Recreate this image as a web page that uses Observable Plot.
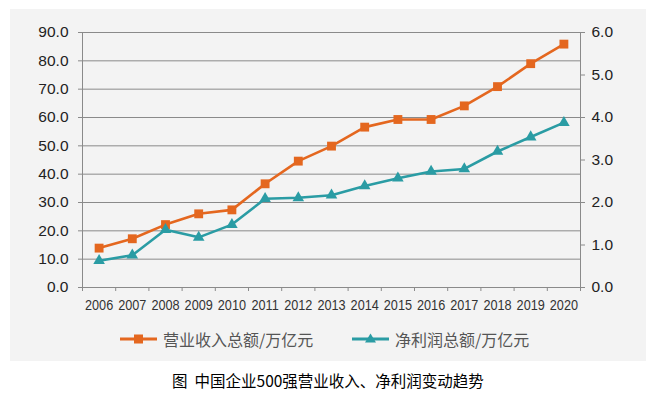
<!DOCTYPE html>
<html>
<head>
<meta charset="utf-8">
<script src="https://cdn.jsdelivr.net/npm/d3@7"></script>
<script src="https://cdn.jsdelivr.net/npm/@observablehq/plot@0.6"></script>
<style>
  html, body { margin: 0; padding: 0; background: #fff; }
  body { width: 656px; height: 398px; position: relative; overflow: hidden; font-family: "Liberation Sans", Arial, sans-serif; }
  #panel { position: absolute; left: 10px; top: 9px; width: 636px; height: 352px; background: #f3f3f3; }
  #chart { position: absolute; left: 0; top: 0; }
  .leg { position: absolute; top: 318px; height: 24px; display: flex; align-items: center; font-family: "Noto Sans CJK SC", sans-serif; font-size: 16px; color: #555; white-space: nowrap; }
  .leg svg { margin-right: 5px; }
  #caption { position: absolute; left: 0; width: 656px; top: 369px; text-align: center; font-family: "Noto Sans CJK SC", sans-serif; font-size: 15.5px; font-weight: 400; color: #000; white-space: pre; }
  g[aria-label="x-axis tick label"] text, g[aria-label="y-axis tick label"] text { font-size: 15.5px; }
</style>
</head>
<body>
<div id="panel">
  <div id="chart"></div>
  <div class="leg" id="leg1" style="left:110px"></div>
  <div class="leg" id="leg2" style="left:342px"></div>
</div>
<div id="caption"></div>
<script>
const years = [2006, 2007, 2008, 2009, 2010, 2011, 2012, 2013, 2014, 2015, 2016, 2017, 2018, 2019, 2020];
const revenue = [13.9, 17.2, 22.2, 26.0, 27.4, 36.6, 44.6, 49.9, 56.6, 59.3, 59.3, 64.1, 70.9, 79.0, 85.9];
const profit = [0.63, 0.76, 1.36, 1.18, 1.48, 2.09, 2.11, 2.17, 2.39, 2.57, 2.73, 2.79, 3.20, 3.54, 3.88];
const leftTicks = [0, 10, 20, 30, 40, 50, 60, 70, 80, 90];
const rightTicks = [0, 1, 2, 3, 4, 5, 6];
const seriesNames = ["营业收入总额/万亿元", "净利润总额/万亿元"];
const captionText = "图  中国企业500强营业收入、净利润变动趋势";
const colors = ["#E4671F", "#2A9CA4"];

const ratio = 90 / 6; // right axis max / left axis max mapping
const revData = years.map((y, i) => ({year: y, v: revenue[i]}));
const profData = years.map((y, i) => ({year: y, v: profit[i] * ratio}));
const boundaries = years.map(y => y - 0.5).concat([years[years.length - 1] + 0.5]);

const plot = Plot.plot({
  width: 636,
  height: 310,
  marginLeft: 72,
  marginRight: 66,
  marginTop: 23,
  marginBottom: 32,
  style: {background: "transparent", fontFamily: "Liberation Sans, Arial, sans-serif"},
  x: {domain: [years[0] - 0.5, years[years.length - 1] + 0.5]},
  y: {domain: [0, 90]},
  marks: [
    Plot.gridY(leftTicks, {stroke: "#8a8a8a", strokeOpacity: 1, strokeWidth: 1}),
    Plot.frame({stroke: "#8a8a8a"}),
    Plot.axisY(leftTicks, {anchor: "left", tickSize: 4, tickPadding: 10, tickFormat: d => d.toFixed(1), fontSize: 15.5, fill: "#222", stroke: "#8a8a8a", label: null}),
    Plot.axisY(rightTicks.map(d => d * ratio), {anchor: "right", tickSize: 4, tickPadding: 7, tickFormat: d => (d / ratio).toFixed(1), fontSize: 15.5, fill: "#222", stroke: "#8a8a8a", label: null}),
    Plot.axisX(boundaries, {anchor: "bottom", tickSize: 4, tickFormat: () => "", stroke: "#8a8a8a", label: null}),
    Plot.axisX(years, {anchor: "bottom", tickSize: 0, tickPadding: 11, tickFormat: d => String(d), fontSize: 15.5, fill: "#333", label: null}),
    Plot.line(revData, {x: "year", y: "v", stroke: colors[0], strokeWidth: 2.6}),
    Plot.dot(revData, {x: "year", y: "v", symbol: "square", r: 5, fill: colors[0], stroke: null}),
    Plot.line(profData, {x: "year", y: "v", stroke: colors[1], strokeWidth: 2.6}),
    Plot.dot(profData, {x: "year", y: "v", symbol: "triangle", r: 4.3, fill: colors[1], stroke: null})
  ]
});
document.getElementById("chart").appendChild(plot);

// Condense the year labels horizontally (narrow typeface look)
plot.querySelectorAll('g[aria-label="x-axis tick label"] text').forEach(t => {
  const tr = t.getAttribute("transform") || "";
  t.setAttribute("transform", tr + " scale(0.82,1)");
});

function legendItem(id, color, shape, label) {
  const el = document.getElementById(id);
  const svg = d3.create("svg").attr("width", 38).attr("height", 14);
  svg.append("line").attr("x1", 0).attr("x2", 37).attr("y1", 7).attr("y2", 7).attr("stroke", color).attr("stroke-width", 3);
  if (shape === "square") {
    svg.append("rect").attr("x", 14).attr("y", 2.5).attr("width", 9).attr("height", 9).attr("fill", color);
  } else {
    svg.append("path").attr("d", "M18.5,1.5 L24,10.5 L13,10.5 Z").attr("fill", color);
  }
  el.appendChild(svg.node());
  const span = document.createElement("span");
  span.textContent = label;
  el.appendChild(span);
}
legendItem("leg1", colors[0], "square", seriesNames[0]);
legendItem("leg2", colors[1], "triangle", seriesNames[1]);
document.getElementById("caption").textContent = captionText;
</script>
</body>
</html>
